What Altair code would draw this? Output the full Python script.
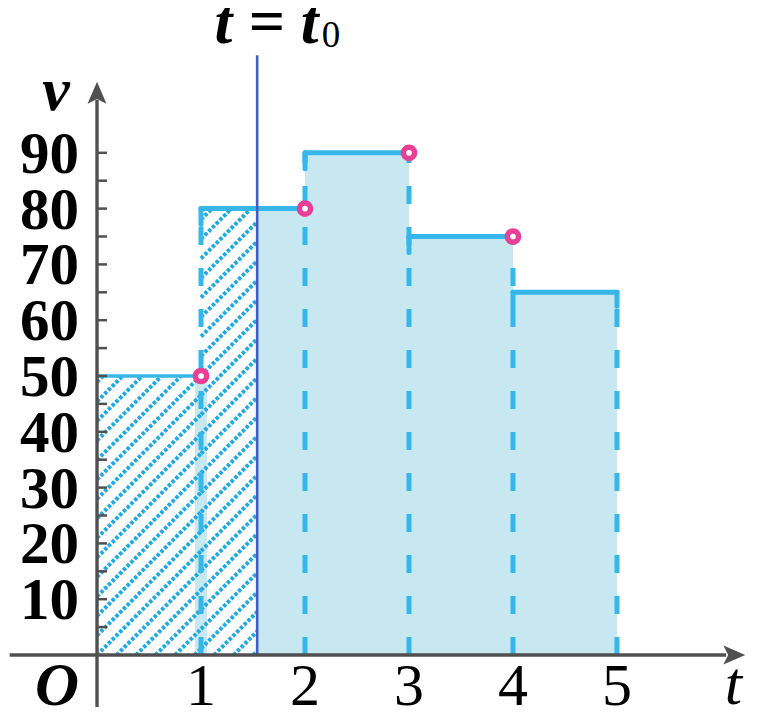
import altair as alt
import numpy as np
import pandas as pd

# ---------------- data ----------------
step_start = [0, 1, 2, 3, 4]
step_end = [1, 2, 3, 4, 5]
step_v = [50, 80, 90, 75, 65]
t0 = 1.54
open_t = [1, 2, 3, 4]
open_v = [50, 80, 90, 75]
y_tick_labels = [10, 20, 30, 40, 50, 60, 70, 80, 90]
y_minor_ticks = [5, 10, 15, 20, 25, 30, 35, 40, 45, 50, 55, 60, 65, 70, 75, 80, 85, 90]
x_tick_labels = [1, 2, 3, 4, 5]

# ---------------- geometry ----------------
W, H = 742, 699
X_DOM = [-0.856, 6.279]
Y_DOM = [-9.32, 115.95]
ux = W / (X_DOM[1] - X_DOM[0])   # px per t unit
uy = H / (Y_DOM[1] - Y_DOM[0])   # px per v unit

FILL = "#c8e8f1"
LINE = "#36b6e9"
HATCH = "#1faae4"
T0C = "#3f5fc4"
PINK = "#ea3f96"
AXIS = "#505050"
FONT = "Liberation Serif"

xs = alt.Scale(domain=X_DOM, nice=False, zero=False)
ys = alt.Scale(domain=Y_DOM, nice=False, zero=False)


def seg_chart(df, **mark):
    return alt.Chart(df).mark_rule(**mark).encode(
        x=alt.X("t1:Q", scale=xs, axis=None),
        x2="t2:Q",
        y=alt.Y("v1:Q", scale=ys, axis=None),
        y2="v2:Q",
    )


# light blue fill right of t0
fill_rows = []
hatch_regions = []
for s, e, v in zip(step_start, step_end, step_v):
    if e > t0:
        fill_rows.append(dict(t1=max(s, t0), t2=e, v1=0, v2=v))
    if s < t0:
        hatch_regions.append((s, min(e, t0), v))
fill_df = pd.DataFrame(fill_rows)
fill = alt.Chart(fill_df).mark_rect(color=FILL).encode(
    x=alt.X("t1:Q", scale=xs, axis=None), x2="t2:Q",
    y=alt.Y("v1:Q", scale=ys, axis=None), y2="v2:Q")

# halo strip at t = 1
strip = seg_chart(pd.DataFrame([dict(t1=1, t2=1, v1=0, v2=step_v[0])]),
                  color=FILL, strokeWidth=12)

# hatch lines (45 deg on screen)
k = ux / uy
spacing = 19.5 / ux
hatch_rows = []
for s0 in np.arange(-6.0, t0 + spacing, spacing):
    for a, b, h in hatch_regions:
        ta = max(a, s0)
        tb = min(b, s0 + h / k)
        if tb > ta:
            hatch_rows.append(dict(t1=ta, t2=tb, v1=k * (ta - s0), v2=k * (tb - s0)))
hatch = seg_chart(pd.DataFrame(hatch_rows), color=HATCH, strokeWidth=4,
                  strokeDash=[3.4, 1.9], strokeCap="butt")

# dashed verticals at step boundaries
vert_rows = []
for i, e in enumerate(step_end):
    top = step_v[i] if i + 1 >= len(step_v) else max(step_v[i], step_v[i + 1])
    vert_rows.append(dict(t1=e, t2=e, v1=0, v2=top))
verts = seg_chart(pd.DataFrame(vert_rows), color=LINE, strokeWidth=5,
                  strokeDash=[18, 23])

# solid rounded corners
corner_rows = []
for s, e, v in zip(step_start[1:], step_end[1:], step_v[1:]):
    corner_rows.append(dict(t1=s, t2=s, v1=v - 16 / uy, v2=v))
corner_rows.append(dict(t1=step_end[-1], t2=step_end[-1], v1=step_v[-1] - 14 / uy, v2=step_v[-1]))
corners = seg_chart(pd.DataFrame(corner_rows), color=LINE, strokeWidth=5, strokeCap="round")

# horizontal tops
top_df = pd.DataFrame(dict(t1=step_start, t2=step_end, v1=step_v, v2=step_v))
tops_first = seg_chart(top_df.iloc[:1], color=LINE, strokeWidth=3.5)
tops = seg_chart(top_df.iloc[1:], color=LINE, strokeWidth=5, strokeCap="round")

# t = t0 line
t0_line = seg_chart(pd.DataFrame([dict(t1=t0, t2=t0, v1=0, v2=107.5)]),
                    color=T0C, strokeWidth=2.6)

# axes
axes_df = pd.DataFrame([
    dict(t1=-0.84, t2=6.05, v1=0, v2=0),
    dict(t1=0, t2=0, v1=Y_DOM[0], v2=99.5),
])
axes = seg_chart(axes_df, color=AXIS, strokeWidth=3.4)
tick_df = pd.DataFrame(dict(t1=0, t2=10 / ux, v1=y_minor_ticks, v2=y_minor_ticks))
ticks = seg_chart(tick_df, color=AXIS, strokeWidth=2.5)

arrow_up = "M0,-1 L0.8,0.85 L0,0.45 L-0.8,0.85 Z"
arrow_right = "M1,0 L-0.85,0.8 L-0.45,0 L-0.85,-0.8 Z"
arr_up = alt.Chart(pd.DataFrame(dict(t=[0], v=[100.6]))).mark_point(
    shape=arrow_up, filled=True, size=560, color=AXIS, opacity=1).encode(
    x=alt.X("t:Q", scale=xs, axis=None), y=alt.Y("v:Q", scale=ys, axis=None))
arr_right = alt.Chart(pd.DataFrame(dict(t=[6.12], v=[0]))).mark_point(
    shape=arrow_right, filled=True, size=560, color=AXIS, opacity=1).encode(
    x=alt.X("t:Q", scale=xs, axis=None), y=alt.Y("v:Q", scale=ys, axis=None))

# open circles
circles = alt.Chart(pd.DataFrame(dict(t=open_t, v=open_v))).mark_point(
    shape="circle", filled=False, fill="white", fillOpacity=1, size=125,
    stroke=PINK, strokeWidth=5.5, opacity=1).encode(
    x=alt.X("t:Q", scale=xs, axis=None), y=alt.Y("v:Q", scale=ys, axis=None))

# text
def text_chart(df, **mark):
    return alt.Chart(df).mark_text(font=FONT, color="black", **mark).encode(
        x=alt.X("t:Q", scale=xs, axis=None), y=alt.Y("v:Q", scale=ys, axis=None),
        text="label:N")

ylab = text_chart(pd.DataFrame(dict(t=0, v=y_tick_labels, label=[str(x) for x in y_tick_labels])),
                  fontSize=59, fontWeight="bold", align="right", baseline="alphabetic", dx=-18, dy=20)
xlab = text_chart(pd.DataFrame(dict(t=x_tick_labels, v=0, label=[str(x) for x in x_tick_labels])),
                  fontSize=60, align="center", baseline="alphabetic", dy=50)
olab = text_chart(pd.DataFrame(dict(t=[0], v=[0], label=["O"])),
                  fontSize=61, fontStyle="italic", fontWeight="bold", align="center",
                  baseline="alphabetic", dx=-40, dy=50)
tlab = text_chart(pd.DataFrame(dict(t=[6.12], v=[0], label=["t"])),
                  fontSize=62, fontStyle="italic", align="center", baseline="alphabetic", dy=49)
vlab = text_chart(pd.DataFrame(dict(t=[0], v=[97.7], label=["v"])),
                  fontSize=62, fontStyle="italic", fontWeight="bold", align="center",
                  baseline="alphabetic", dx=-41)
title1 = text_chart(pd.DataFrame(dict(t=[1.13], v=[109.7], label=["t = t"])),
                    fontSize=64, fontStyle="italic", fontWeight="bold", align="left",
                    baseline="alphabetic")
title2 = text_chart(pd.DataFrame(dict(t=[2.16], v=[109.0], label=["0"])),
                    fontSize=37, align="left", baseline="alphabetic")

chart = alt.layer(
    fill, strip, hatch, verts, corners, tops_first, tops, t0_line,
    axes, ticks, arr_up, arr_right, circles,
    ylab, xlab, olab, tlab, vlab, title1, title2,
).properties(
    width=W, height=H, padding=0, autosize=alt.AutoSizeParams(type="none"),
    background="white",
).configure_view(stroke=None)

chart.save("out.html", embed_options={"renderer": "svg", "actions": False})
